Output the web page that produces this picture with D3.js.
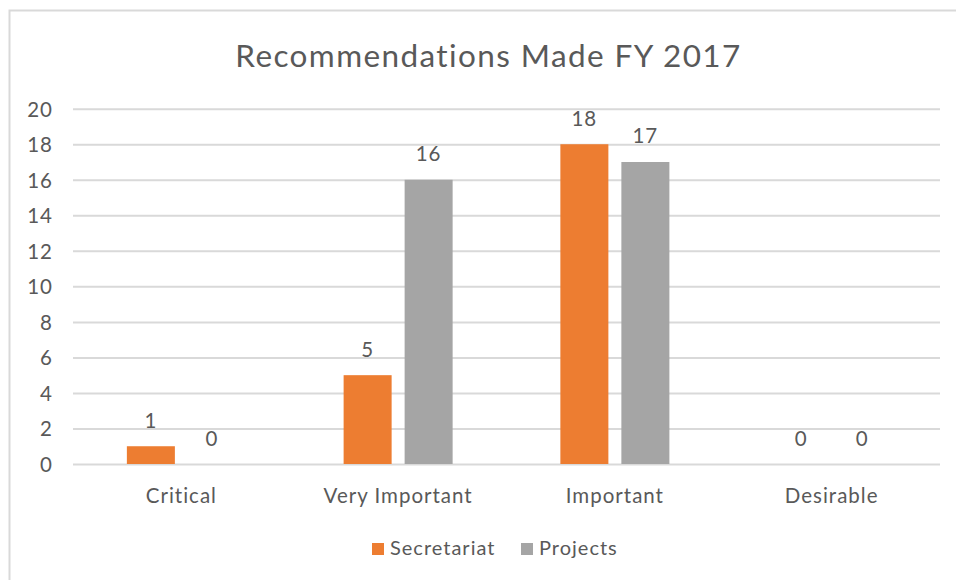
<!DOCTYPE html>
<html>
<head>
<meta charset="utf-8">
<script src="https://cdn.jsdelivr.net/npm/d3@7"></script>
<style>
  body { margin: 0; background: #fff; }
  text { font-family: Lato, "Open Sans", sans-serif; fill: #595959; }
</style>
</head>
<body>
<div id="chart"></div>
<script>
// Chart data.
const categories = ["Critical", "Very Important", "Important", "Desirable"]
const seriesNames = ["Secretariat", "Projects"]
const secretariat = [1, 5, 18, 0]
const projects = [0, 16, 17, 0]
const yTicks = [0, 2, 4, 6, 8, 10, 12, 14, 16, 18, 20]
const colours = {"Secretariat": "#ED7D31", "Projects": "#A5A5A5"}

let width = 956
let height = 580
let margins = {"left": 73, "right": 16, "top": 108.7, "bottom": 116};
let labelSize = "20.5px"
let labelSpacing = "1px"

let rows = categories.map(function(c, i) {
    return {category: c, values: [
        {name: "Secretariat", value: secretariat[i]},
        {name: "Projects", value: projects[i]}
    ]}
})

let svg = d3.select("#chart")
    .append("svg")
    .attr("width", width)
    .attr("height", height)

// Chart area border.
svg.append("rect")
    .attr("x", 9.5).attr("y", 10.5)
    .attr("width", 960).attr("height", 600)
    .attr("fill", "none")
    .attr("stroke", "#D9D9D9")
    .attr("stroke-width", 2)

// Title.
svg.append("text")
    .attr("x", 488.5)
    .attr("y", 67)
    .style("text-anchor", "middle")
    .style("font-size", "31.5px")
    .style("letter-spacing", "1.4px")
    .text("Recommendations Made FY 2017")

// Scales.
let x0 = d3.scaleBand().domain(categories).range([margins.left, width - margins.right])
let x1 = d3.scaleBand().domain(seriesNames).range([0, x0.bandwidth()])
    .paddingInner(13 / 61).paddingOuter(0.883)
let y = d3.scaleLinear().domain([0, 20]).range([464, margins.top])

// Gridlines and y labels.
let yAxis = d3.axisLeft(y).tickValues(yTicks).tickSize(-(width - margins.right - margins.left)).tickPadding(20)
let gy = svg.append("g").attr("transform", "translate(" + margins.left + ",0)").call(yAxis)
gy.select(".domain").remove()
gy.selectAll(".tick line").attr("stroke", "#D9D9D9").attr("stroke-width", 2)
gy.selectAll(".tick text").style("font-size", labelSize).style("letter-spacing", labelSpacing)
    .attr("fill", "#595959").attr("dy", "0.36em")
    .style("font-family", "Lato, sans-serif")

// Category labels.
let xAxis = d3.axisBottom(x0).tickSize(0).tickPadding(24)
let gx = svg.append("g").attr("transform", "translate(0,464)").call(xAxis)
gx.select(".domain").remove()
gx.selectAll(".tick text").style("font-size", labelSize).style("letter-spacing", labelSpacing)
    .attr("fill", "#595959")
    .style("font-family", "Lato, sans-serif")

// Bars.
let groups = svg.append("g")
    .selectAll("g")
    .data(rows)
    .enter()
    .append("g")
    .attr("transform", function(d) { return "translate(" + x0(d.category) + ",0)"; })

groups.selectAll("rect")
    .data(function(d) { return d.values; })
    .enter()
    .append("rect")
    .attr("x", function(d) { return x1(d.name); })
    .attr("y", function(d) { return y(d.value); })
    .attr("width", x1.bandwidth())
    .attr("height", function(d) { return y(0) - y(d.value); })
    .style("fill", function(d) { return colours[d.name]; })

// Value labels.
groups.selectAll("text.value")
    .data(function(d) { return d.values; })
    .enter()
    .append("text")
    .attr("class", "value")
    .attr("x", function(d) { return x1(d.name) + x1.bandwidth() / 2; })
    .attr("y", function(d) { return y(d.value) - 18.5; })
    .style("text-anchor", "middle")
    .style("font-size", labelSize)
    .style("letter-spacing", labelSpacing)
    .text(function(d) { return d.value; })

// Legend.
let legendX = [372, 521]
let legend = svg.append("g")
    .selectAll("g")
    .data(seriesNames)
    .enter()
    .append("g")
    .attr("transform", function(d, i) { return "translate(" + legendX[i] + ",543)"; })
legend.append("rect")
    .attr("width", 12).attr("height", 12)
    .style("fill", function(d) { return colours[d]; })
legend.append("text")
    .attr("x", 18).attr("y", 12)
    .style("font-size", "20px")
    .style("letter-spacing", labelSpacing)
    .text(function(d) { return d; })
</script>
</body>
</html>
